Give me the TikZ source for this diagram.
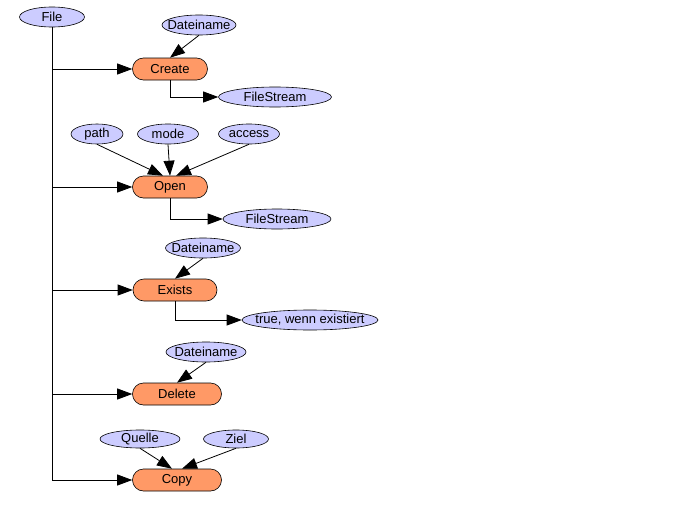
\documentclass[tikz,border=0pt]{standalone}
\usepackage{fontspec}
\setmainfont{Liberation Sans}
\usetikzlibrary{shapes.geometric,shapes.misc,arrows.meta}
\newcommand{\lbl}[1]{\makebox[0pt]{#1}}
\begin{document}
\begin{tikzpicture}[x=1pt, y=-1pt,
    every node/.style={font=\fontsize{13}{15}\selectfont, draw, line width=0.6pt, inner sep=0pt},
    param/.style={ellipse, fill={rgb,255:red,204;green,204;blue,255}, minimum height=20pt},
    method/.style={rounded rectangle, fill={rgb,255:red,255;green,153;blue,102}, minimum height=22pt},
    arr/.style={line width=0.8pt, -{Triangle[length=15pt,width=11pt]}}]
    \useasboundingbox (0,0) rectangle (681,530);
    % nodes
    \node[param, minimum width=65pt] (file) at (52,17) {\lbl{File}};
    \node[param, minimum width=74pt] (dname1) at (199,25) {\lbl{Dateiname}};
    \node[method, minimum width=75pt] (create) at (170,69) {\lbl{Create}};
    \node[param, minimum width=113pt] (fs1) at (275,97) {\lbl{FileStream}};
    \node[param, minimum width=52pt] (path) at (97,134) {\lbl{path}};
    \node[param, minimum width=61pt] (mode) at (168,134) {\lbl{mode}};
    \node[param, minimum width=61pt] (access) at (249,134) {\lbl{access}};
    \node[method, minimum width=75pt] (open) at (170,187) {\lbl{Open}};
    \node[param, minimum width=108pt] (fs2) at (277,219) {\lbl{FileStream}};
    \node[param, minimum width=75pt] (dname2) at (203,248) {\lbl{Dateiname}};
    \node[method, minimum width=84pt] (exists) at (175,290) {\lbl{Exists}};
    \node[param, minimum width=136pt] (result) at (310,320) {\lbl{true, wenn existiert}};
    \node[param, minimum width=80pt] (dname3) at (206,352) {\lbl{Dateiname}};
    \node[method, minimum width=89pt] (delete) at (177,394) {\lbl{Delete}};
    \node[param, minimum width=80pt, minimum height=18pt] (quelle) at (140,439) {\lbl{Quelle}};
    \node[param, minimum width=65pt, minimum height=18pt] (ziel) at (236,439) {\lbl{Ziel}};
    \node[method, minimum width=89pt] (copy) at (177,480) {\lbl{Copy}};
    % trunk
    \foreach \m in {create, open, exists, delete, copy}
        \draw[arr] (file) |- (\m);
    % results
    \draw[arr] (create) |- (fs1);
    \draw[arr] (open) |- (fs2);
    \draw[arr] (exists) |- (result);
    % parameters
    \draw[arr] (dname1.south) -- (create.north);
    \draw[arr] (path.south) -- ([xshift=-7pt]open.north);
    \draw[arr] (mode.south) -- (open.north);
    \draw[arr] (access.south) -- ([xshift=6pt]open.north);
    \draw[arr] (dname2.south) -- (exists.north);
    \draw[arr] (dname3.south) -- (delete.north);
    \draw[arr] (quelle.south) -- ([xshift=-5pt]copy.north);
    \draw[arr] (ziel.south) -- ([xshift=5pt]copy.north);
\end{tikzpicture}
\end{document}
